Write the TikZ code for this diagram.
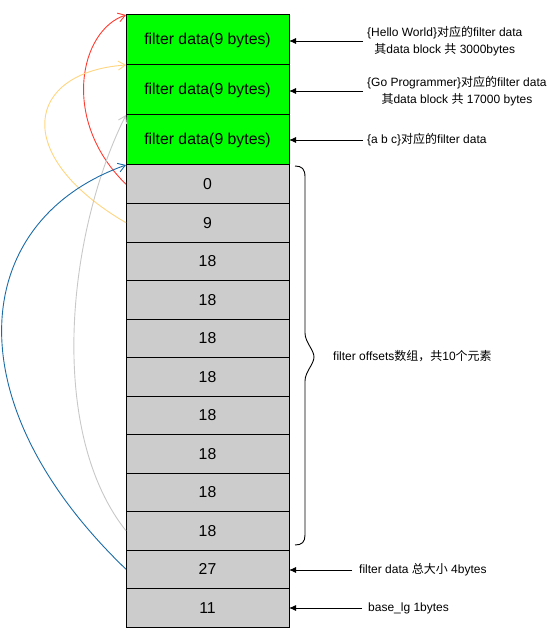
\documentclass[tikz,border=0pt]{standalone}
\usepackage{fontspec}
\setmainfont{Liberation Sans}
\newfontfamily\cjk{Noto Sans CJK SC}
\usetikzlibrary{arrows.meta}
\definecolor{cellgreen}{HTML}{00FF00}
\definecolor{cellgrey}{HTML}{CCCCCC}
\definecolor{cred}{HTML}{FF3B30}
\definecolor{corange}{HTML}{FFD580}
\definecolor{cgrey}{HTML}{C8C8C8}
\definecolor{cblue}{HTML}{1B6BA8}
\tikzset{
  cell/.style={draw=black, line width=1pt, minimum width=163pt, inner sep=0pt, outer sep=0pt,
    font=\fontsize{15.8}{19}\selectfont},
  gcell/.style={cell, fill=cellgreen, minimum height=50pt},
  ocell/.style={cell, fill=cellgrey, minimum height=38.5pt},
  note/.style={anchor=west, align=center, inner ysep=1pt, font=\fontsize{12}{16.5}\selectfont},
  pointer/.style={line width=0.9pt, -{Latex[length=7pt,width=6pt]}},
  link/.style={line width=0.9pt, -{Straight Barb[length=7pt,width=9pt]}},
}
\begin{document}
\begin{tikzpicture}[x=1pt,y=-1pt]
\useasboundingbox (0,0) rectangle (554,628);
% cells
\node[gcell] (r1) at (207.5,40) {filter data(9 bytes)};
\node[gcell] (r2) at (207.5,90) {filter data(9 bytes)};
\node[gcell] (r3) at (207.5,140) {filter data(9 bytes)};
\node[ocell] (g1) at (207.5,184.25) {0};
\node[ocell] (g2) at (207.5,222.75) {9};
\node[ocell] (g3) at (207.5,261.25) {18};
\node[ocell] (g4) at (207.5,299.75) {18};
\node[ocell] (g5) at (207.5,338.25) {18};
\node[ocell] (g6) at (207.5,376.75) {18};
\node[ocell] (g7) at (207.5,415.25) {18};
\node[ocell] (g8) at (207.5,453.75) {18};
\node[ocell] (g9) at (207.5,492.25) {18};
\node[ocell] (g10) at (207.5,530.75) {18};
\node[ocell] (g11) at (207.5,569.25) {27};
\node[ocell] (g12) at (207.5,607.75) {11};
% notes
\node[note, inner xsep=4pt] (t1) at (363,41) {\{Hello World\}{\cjk 对应的}filter data\\{\cjk 其}data block {\cjk 共} 3000bytes};
\node[note, inner xsep=4pt] (t2) at (363,91) {\{Go Programmer\}{\cjk 对应的}filter data\\{\cjk 其}data block {\cjk 共} 17000 bytes};
\node[note, inner xsep=4pt] (t3) at (363,140) {\{a b c\}{\cjk 对应的}filter data};
\node[note, inner xsep=7pt] (t4) at (352,570) {filter data {\cjk 总大小} 4bytes};
\node[note, inner xsep=6pt] (t5) at (362,608) {base\_lg 1bytes};
\node[note, inner xsep=0pt] (t6) at (333,356) {filter offsets{\cjk 数组，共}10{\cjk 个元素}};
% pointers
\draw[pointer] (t1.west) -- (t1.west -| r1.east);
\draw[pointer] (t2.west) -- (t2.west -| r2.east);
\draw[pointer] (t3.west) -- (t3.west -| r3.east);
\draw[pointer] (t4.west) -- (t4.west -| g11.east);
\draw[pointer] (t5.west) -- (t5.west -| g12.east);
% brace
\draw[line width=0.9pt, line join=round] (295,166) .. controls (302,166) and (305,169) .. (305,177)
  -- (305,333) .. controls (305,342) and (314,350) .. (314,357)
  .. controls (314,364) and (305,372) .. (305,381)
  -- (305,535) .. controls (305,542) and (302,545) .. (295,545);
% links
\draw[link, cred] (g1.west) .. controls (60,120) and (80,30) .. (r1.north west);
\draw[link, corange] (g2.west) .. controls (10,155) and (26,72) .. (r2.north west);
\draw[link, cgrey] (g10.west) .. controls (46,430) and (68,230) .. (r3.north west);
\draw[link, cblue] (g11.west) .. controls (-50,400) and (-29,220) .. (g1.north west);
\end{tikzpicture}
\end{document}
